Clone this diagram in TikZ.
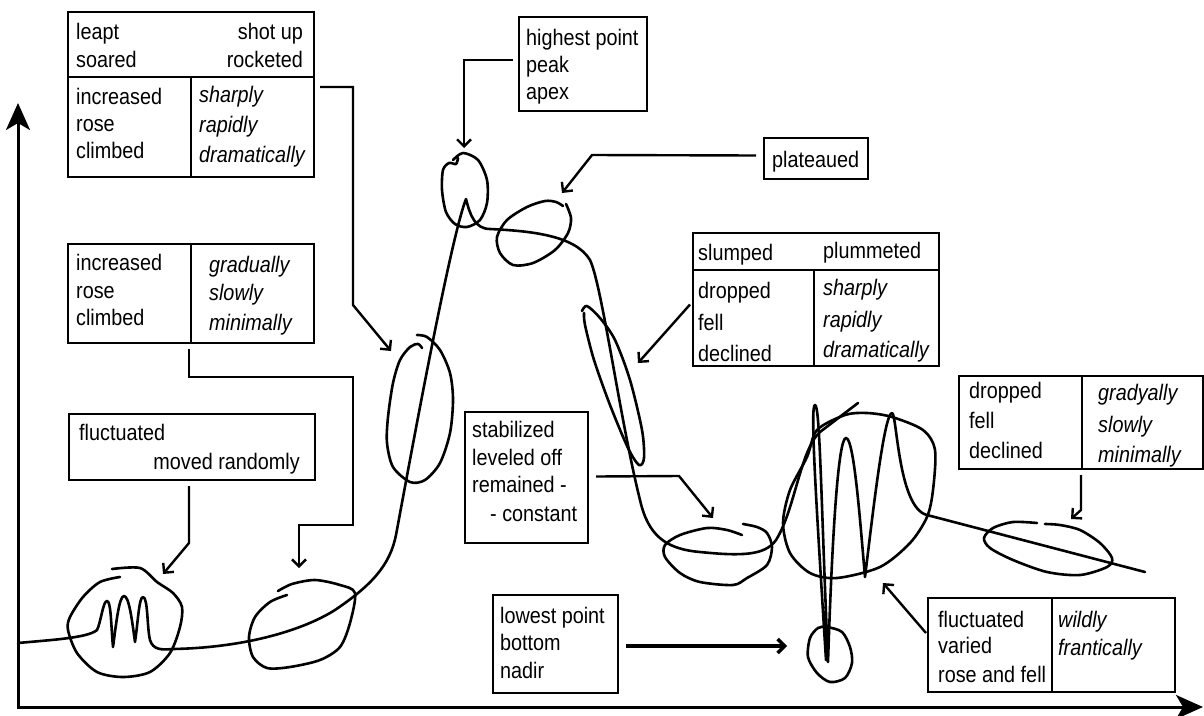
\documentclass[tikz,border=0pt]{standalone}
\usepackage{fontspec}
\setmainfont{Liberation Sans}[FakeStretch=0.88]
\usetikzlibrary{arrows.meta,calc}
\begin{document}
\begin{tikzpicture}[x=1pt,y=-1pt,
  box/.style={draw,line width=2.8pt,rectangle,anchor=north west,inner sep=0pt,outer sep=0pt},
  rule/.style={line width=2.8pt},
  txt/.style={inner sep=0pt,font=\fontsize{22.5}{26}\selectfont,anchor=base west},
  txtr/.style={txt,anchor=base east},
  itxt/.style={txt,font=\fontsize{22.5}{26}\selectfont\itshape},
  conn/.style={line width=2.4pt,-{Straight Barb[length=7pt,width=14pt]}},
  sketch/.style={line width=2.6pt,line cap=round,line join=round},
  axis/.style={line width=3pt,{Stealth[length=27pt,width=24pt,inset=7pt]}-{Stealth[length=27pt,width=24pt,inset=7pt]}}]
\useasboundingbox (0,0) rectangle (1204,715);

% axes
\coordinate (O) at (18,707);
\coordinate (ytip) at (18,103);
\coordinate (xtip) at (1203,707);
\draw[axis] (ytip) -- (O) -- (xtip);

% boxes
\node[box,minimum width=246pt,minimum height=165pt] (B1) at (68,12) {};
\draw[rule] (B1.west |- 0,77) -- (B1.east |- 0,77);
\draw[rule] (191,77) -- (191,177);
\node[box,minimum width=246pt,minimum height=99pt] (B2) at (68,244) {};
\draw[rule] (191,244) -- (191,343);
\node[box,minimum width=246pt,minimum height=66pt] (B3) at (69,414) {};
\node[box,minimum width=128pt,minimum height=94pt] (B4) at (519,17) {};
\node[box,minimum width=104pt,minimum height=41pt] (B5) at (764,138) {};
\node[box,minimum width=246pt,minimum height=133pt] (B6) at (693,233) {};
\draw[rule] (B6.west |- 0,270) -- (B6.east |- 0,270);
\draw[rule] (814,270) -- (814,366);
\node[box,minimum width=244pt,minimum height=93pt] (B7) at (959,376) {};
\draw[rule] (1082,376) -- (1082,469);
\node[box,minimum width=123pt,minimum height=131pt] (B8) at (465,412) {};
\node[box,minimum width=125pt,minimum height=98pt] (B9) at (493,595) {};
\node[box,minimum width=247pt,minimum height=94pt] (B10) at (928,598) {};
\draw[rule] (1052,598) -- (1052,692);

% texts
\node[txt] (t1) at (76,39) {leapt};
\node[txt] (t2) at (76,67) {soared};
\node[txtr] (t3) at (303,39) {shot up};
\node[txtr] (t4) at (303,67) {rocketed};
\node[txt] (t5) at (76,104) {increased};
\node[txt] (t6) at (76,131) {rose};
\node[txt] (t7) at (76,158) {climbed};
\node[itxt] (t8) at (199,102) {sharply};
\node[itxt] (t9) at (199,132) {rapidly};
\node[itxt] (t10) at (199,162) {dramatically};

\node[txt] (t11) at (76,270) {increased};
\node[txt] (t12) at (76,298) {rose};
\node[txt] (t13) at (76,325) {climbed};
\node[itxt] (t14) at (209,272) {gradually};
\node[itxt] (t15) at (209,300) {slowly};
\node[itxt] (t16) at (209,330) {minimally};

\node[txt] (t17) at (79,440) {fluctuated};
\node[txtr] (t18) at (300,469) {moved randomly};

\node[txt] (t19) at (526,45) {highest point};
\node[txt] (t20) at (526,72) {peak};
\node[txt] (t21) at (526,99) {apex};

\node[txt] (t22) at (772,167) {plateaued};

\node[txt] (t23) at (698,260) {slumped};
\node[txt] (t24) at (823,258) {plummeted};
\node[txt] (t25) at (698,298) {dropped};
\node[txt] (t26) at (698,330) {fell};
\node[txt] (t27) at (698,361) {declined};
\node[itxt] (t28) at (823,295) {sharply};
\node[itxt] (t29) at (823,327) {rapidly};
\node[itxt] (t30) at (823,357) {dramatically};

\node[txt] (t31) at (969,398) {dropped};
\node[txt] (t32) at (969,428) {fell};
\node[txt] (t33) at (969,458) {declined};
\node[itxt] (t34) at (1098,400) {gradyally};
\node[itxt] (t35) at (1098,432) {slowly};
\node[itxt] (t36) at (1098,462) {minimally};

\node[txt] (t37) at (472,437) {stabilized};
\node[txt] (t38) at (472,465) {leveled off};
\node[txt] (t39) at (472,492) {remained -};
\node[txt] (t40) at (490,521) {- constant};

\node[txt] (t41) at (500,623) {lowest point};
\node[txt] (t42) at (500,650) {bottom};
\node[txt] (t43) at (500,678) {nadir};

\node[txt] (t44) at (938,627) {fluctuated};
\node[txt] (t45) at (938,653) {varied};
\node[txt] (t46) at (938,682) {rose and fell};
\node[itxt] (t47) at (1058,627) {wildly};
\node[itxt] (t48) at (1058,655) {frantically};

% arrow end points
\coordinate (a1) at (391,351);
\coordinate (a2) at (299,568);
\coordinate (a3) at (163,574);
\coordinate (a4) at (464,148);
\coordinate (a5) at (562,193);
\coordinate (a6) at (638,363);
\coordinate (a7) at (1071,519);
\coordinate (a8) at (713,518);
\coordinate (a9) at (787,646);
\coordinate (a10) at (883,583);

% connectors
\draw[conn] ($(B1.north east)+(6,75)$) -- (353,87) -- (353,305) -- (a1);
\draw[conn] ($(B2.south west)+(121,6)$) -- (189,377) -- (353,377) -- (353,525) -- (299,525) -- (a2);
\draw[conn] ($(B3.south west)+(120,6)$) -- (189,543) -- (a3);
\draw[conn] ($(B4.north west)+(-6,43)$) -- (464,60) -- (a4);
\draw[conn] ($(B5.west)+(-8,-3)$) -- (592,155) -- (a5);
\draw[conn] ($(B6.west)+(-3,5)$) -- (a6);
\draw[conn] ($(B7.south west)+(122,6)$) -- (1081,510) -- (a7);
\draw[conn] ($(B8.east)+(8,-1)$) -- (679,476) -- (a8);
\draw[conn,line width=3.4pt] ($(B9.east)+(8,2)$) -- (a9);
\draw[conn] ($(B10.west)+(-2,-12)$) -- (a10);

% data curve
\draw[sketch] (18,643) .. controls (50,640) and (88,638) .. (97,630)
 .. controls (101,622) and (103,601) .. (107,601)
 .. controls (111,601) and (111,625) .. (113,647)
 .. controls (116,625) and (119,596) .. (124,596)
 .. controls (129,596) and (132,620) .. (135,642)
 .. controls (138,622) and (139,597) .. (143,597)
 .. controls (148,597) and (147,628) .. (150,640)
 .. controls (153,650) and (162,650) .. (172,649)
 .. controls (240,648) and (300,632) .. (335,610)
 .. controls (372,585) and (390,565) .. (396,535)
 .. controls (410,460) and (450,240) .. (466,199)
 .. controls (470,215) and (475,229) .. (490,229)
 .. controls (530,231) and (575,235) .. (590,260)
 .. controls (602,285) and (620,420) .. (640,500)
 .. controls (648,535) and (665,549) .. (700,552)
 .. controls (740,556) and (765,556) .. (776,540)
 .. controls (795,510) and (800,450) .. (820,432)
 -- (858,403);

% fluctuation spikes and decline
\draw[sketch] (826,660) .. controls (816,500) and (810,405) .. (815,405)
 .. controls (820,405) and (821,500) .. (828,662)
 .. controls (832,540) and (838,438) .. (846,438)
 .. controls (854,438) and (860,520) .. (865,577)
 .. controls (872,520) and (884,413) .. (892,413)
 .. controls (897,413) and (898,508) .. (927,515)
 -- (1145,572);

% hand-drawn loops
\draw[sketch] plot[smooth] coordinates {(120,577) (100,582) (83,597) (70,617) (68,630) (77,653) (97,672) (123,677) (150,672) (170,653) (180,627) (182,607) (173,593) (157,582) (140,568) (112,569)};
\draw[sketch] plot[smooth] coordinates {(287,595) (270,602) (255,617) (249,637) (253,657) (267,668) (290,667) (320,660) (340,647) (350,623) (355,593) (340,585) (315,580) (292,584) (278,591)};
\draw[sketch] plot[smooth] coordinates {(422,348) (418,344) (410,347) (400,360) (393,383) (388,417) (387,443) (393,467) (410,482) (425,480) (440,463) (450,433) (453,400) (450,373) (440,350) (427,337) (417,335)};
\draw[sketch] plot[smooth] coordinates {(453,160) (463,153) (478,160) (487,180) (487,203) (480,220) (467,227) (455,224) (446,212) (442,190) (443,170) (449,163) (456,164) (458,158)};
\draw[sketch] plot[smooth] coordinates {(563,206) (556,202) (545,201) (527,207) (507,220) (497,237) (500,253) (513,265) (533,263) (555,250) (568,233) (571,218) (566,204)};
\draw[sketch] plot[smooth] coordinates {(582,311) (587,306) (600,318) (615,340) (630,380) (642,430) (644,458) (639,465) (628,448) (610,405) (594,360) (585,325) (584,313)};
\draw[sketch] plot[smooth] coordinates {(742,535) (727,530) (707,528) (680,535) (665,545) (665,557) (680,573) (700,582) (733,585) (747,578) (767,565) (772,547) (767,533) (757,527) (743,524)};
\draw[sketch] plot[smooth cycle] coordinates {(817,430) (845,415) (867,413) (892,417) (923,430) (935,450) (933,490) (927,517) (910,543) (880,567) (837,578) (810,573) (790,553) (783,523) (790,490) (807,457)};
\draw[sketch] plot[smooth cycle] coordinates {(827,627) (842,632) (850,647) (852,663) (845,678) (830,682) (817,673) (808,657) (810,638) (818,628)};
\draw[sketch] plot[smooth] coordinates {(1037,523) (1013,522) (993,528) (984,538) (990,548) (1013,560) (1047,572) (1080,575) (1107,567) (1112,558) (1100,543) (1080,530) (1060,525) (1045,524)};
\end{tikzpicture}
\end{document}
